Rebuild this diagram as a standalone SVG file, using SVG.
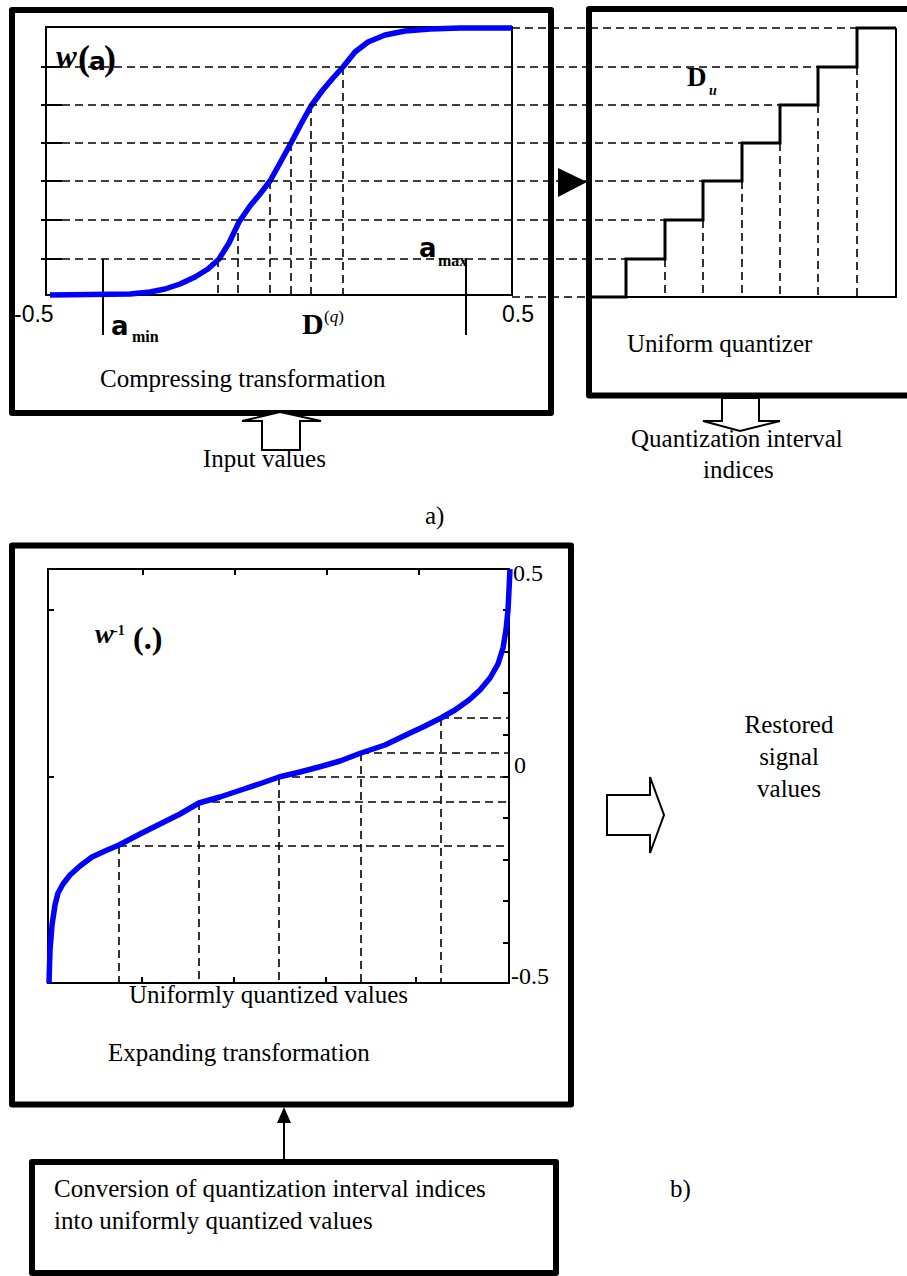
<svg xmlns="http://www.w3.org/2000/svg" width="907" height="1276" viewBox="0 0 907 1276">
  <defs>
    <style>
      .box { fill: none; stroke: #000; stroke-width: 6; stroke-linejoin: round; }
      .frame { fill: none; stroke: #000; stroke-width: 2; }
      .tick { stroke: #000; stroke-width: 2; }
      .dash { stroke: #000; stroke-width: 1.6; stroke-dasharray: 8 5; fill: none; }
      .solid { stroke: #000; stroke-width: 2; fill: none; }
      .stair { stroke: #000; stroke-width: 3; fill: none; stroke-linejoin: miter; }
      .curve { fill: none; stroke: #0000ff; stroke-width: 5.5; stroke-linejoin: round; stroke-linecap: butt; }
      .hollow { fill: #fff; stroke: #000; stroke-width: 2; stroke-linejoin: miter; }
      .lbl { font-family: "Liberation Serif", "Times New Roman", serif; font-size: 25px; fill: #000; }
      .num { font-family: "Liberation Sans", Arial, sans-serif; font-size: 23px; fill: #000; }
      .axn { font-family: "Liberation Serif", "Times New Roman", serif; font-size: 24px; fill: #000; }
      .sym { font-family: "DejaVu Sans", "Liberation Sans", sans-serif; font-weight: bold; fill: #000; }
      .sub { font-family: "Liberation Serif", "Times New Roman", serif; font-weight: bold; font-size: 16px; fill: #000; }
      .math { font-family: "Liberation Serif", "Times New Roman", serif; fill: #000; }
    </style>
  </defs>

  <!-- a) compressing transformation block -->
  <g id="compressing">
    <rect class="box" x="12" y="10" width="539" height="403"/>
    <rect class="frame" x="46" y="27" width="466" height="268"/>
    <!-- left axis ticks -->
    <g class="tick">
      <line x1="41" y1="67" x2="62" y2="67"/>
      <line x1="41" y1="105" x2="62" y2="105"/>
      <line x1="41" y1="143" x2="62" y2="143"/>
      <line x1="41" y1="181" x2="62" y2="181"/>
      <line x1="41" y1="220" x2="62" y2="220"/>
      <line x1="41" y1="259" x2="62" y2="259"/>
    </g>
    <!-- drop lines from the curve to the input axis -->
    <g class="dash">
      <line x1="218" y1="259" x2="218" y2="295"/>
      <line x1="238" y1="220" x2="238" y2="295"/>
      <line x1="270" y1="181" x2="270" y2="295"/>
      <line x1="291" y1="143" x2="291" y2="295"/>
      <line x1="311" y1="105" x2="311" y2="295"/>
      <line x1="343" y1="67" x2="343" y2="295"/>
    </g>
    <!-- amin / amax markers -->
    <line class="solid" x1="103" y1="259" x2="103" y2="335"/>
    <line class="solid" x1="466" y1="259" x2="466" y2="335"/>
    <!-- compressor characteristic -->
    <polyline class="curve" points="50,295 130,294 150,292 165,289 180,284 195,277 208,269 219,259 229,243 239,222 250,206 260,194 270,181 280,163 291,143 301,124 311,106 322,91 333,78 343,67 355,52 368,42 385,35 405,31 430,29 460,28 512,28"/>
    <!-- labels -->
    <text class="math" x="56" y="67" font-size="31" font-style="italic" font-weight="bold">w</text>
    <text class="math" x="78" y="70" font-size="36" font-weight="bold">(</text>
    <text class="sym" x="89" y="70" font-size="25">a</text>
    <text class="math" x="104" y="70" font-size="36" font-weight="bold">)</text>
    <text class="num" x="14" y="322">-0.5</text>
    <text class="num" x="502" y="322">0.5</text>
    <text class="sym" x="111" y="335" font-size="26">a</text>
    <text class="sub" x="132" y="342">min</text>
    <text class="sym" x="419" y="257" font-size="26">a</text>
    <text class="sub" x="438" y="266">max</text>
    <text class="math" x="302" y="334" font-size="30" font-weight="bold">D</text>
    <text class="math" x="324" y="322" font-size="17">(<tspan font-style="italic">q</tspan>)</text>
    <text class="lbl" x="100" y="387">Compressing transformation</text>
  </g>

  <!-- uniform quantizer block -->
  <g id="quantizer">
    <rect class="box" x="589" y="9" width="340" height="386.5"/>
    <path class="solid" d="M896,28 V297 H589"/>
    <path class="stair" d="M589,297 H626 V259 H665 V220 H703 V181 H742 V143 H780 V105 H818 V67 H857 V28 H896"/>
    <g class="dash">
      <line x1="665" y1="259" x2="665" y2="297"/>
      <line x1="703" y1="220" x2="703" y2="297"/>
      <line x1="742" y1="181" x2="742" y2="297"/>
      <line x1="780" y1="143" x2="780" y2="297"/>
      <line x1="818" y1="105" x2="818" y2="297"/>
      <line x1="857" y1="67" x2="857" y2="297"/>
    </g>
    <text class="math" x="687" y="86" font-size="27" font-weight="bold">D</text>
    <text class="math" x="709" y="95" font-size="14" font-style="italic" font-weight="bold">u</text>
    <text class="lbl" x="627" y="352">Uniform quantizer</text>
  </g>

  <!-- input / output labels of part a) -->
  <g id="input">
    <text class="lbl" x="203" y="467">Input values</text>
  </g>
  <g id="indices">
    <text class="lbl" x="631" y="447">Quantization interval</text>
    <text class="lbl" x="703" y="478">indices</text>
  </g>
  <text class="lbl" x="425" y="524">a)</text>

  <!-- b) expanding transformation block -->
  <g id="expanding">
    <rect class="box" x="12" y="545.5" width="559" height="559"/>
    <rect class="frame" x="48" y="569" width="461" height="414"/>
    <g class="tick">
      <!-- top ticks -->
      <line x1="143" y1="569" x2="143" y2="575"/>
      <line x1="235" y1="569" x2="235" y2="575"/>
      <line x1="327" y1="569" x2="327" y2="575"/>
      <line x1="419" y1="569" x2="419" y2="575"/>
      <!-- bottom ticks -->
      <line x1="142" y1="983" x2="142" y2="977"/>
      <line x1="234" y1="983" x2="234" y2="977"/>
      <line x1="326" y1="983" x2="326" y2="977"/>
      <line x1="416" y1="983" x2="416" y2="977"/>
      <!-- left ticks -->
      <line x1="48" y1="610" x2="54" y2="610"/>
      <line x1="48" y1="777" x2="54" y2="777"/>
      <!-- right ticks -->
      <line x1="509" y1="610" x2="503" y2="610"/>
      <line x1="509" y1="652" x2="503" y2="652"/>
      <line x1="509" y1="693" x2="503" y2="693"/>
      <line x1="509" y1="735" x2="503" y2="735"/>
      <line x1="509" y1="777" x2="503" y2="777"/>
      <line x1="509" y1="818" x2="503" y2="818"/>
      <line x1="509" y1="860" x2="503" y2="860"/>
      <line x1="509" y1="901" x2="503" y2="901"/>
      <line x1="509" y1="943" x2="503" y2="943"/>
    </g>
    <g class="dash">
      <line x1="119" y1="846" x2="509" y2="846"/>
      <line x1="199" y1="802" x2="509" y2="802"/>
      <line x1="279" y1="777" x2="509" y2="777"/>
      <line x1="361" y1="753" x2="509" y2="753"/>
      <line x1="441" y1="718" x2="509" y2="718"/>
      <line x1="119" y1="846" x2="119" y2="983"/>
      <line x1="199" y1="802" x2="199" y2="983"/>
      <line x1="279" y1="777" x2="279" y2="983"/>
      <line x1="361" y1="753" x2="361" y2="983"/>
      <line x1="441" y1="718" x2="441" y2="983"/>
    </g>
    <!-- expander characteristic -->
    <polyline class="curve" points="49,983 50,950 52,925 55,905 58,893 63,884 70,875 80,866 92,857 105,851 119,845 140,834 160,824 180,814 199,803 220,797 244,789 262,783 279,777 300,772 319,767 340,761 361,753 385,745 408,734 425,726 441,718 455,710 469,700 480,690 490,678 498,664 503,648 506,630 508,610 509,590 510,569"/>
    <text class="math" x="95" y="643" font-size="28" font-style="italic" font-weight="bold">w</text>
    <text class="math" x="113" y="635" font-size="14" font-weight="bold">-1</text>
    <text class="math" x="133" y="649" font-size="32" font-weight="bold">(.)</text>
    <text class="axn" x="513" y="581">0.5</text>
    <text class="axn" x="514" y="773">0</text>
    <text class="axn" x="511" y="984">-0.5</text>
    <text class="lbl" x="129" y="1003">Uniformly quantized values</text>
    <text class="lbl" x="108" y="1061">Expanding transformation</text>
  </g>

  <!-- index to value conversion block -->
  <g id="conversion">
    <rect class="box" x="32" y="1162" width="524" height="111"/>
    <text class="lbl" x="54" y="1197">Conversion of quantization interval indices</text>
    <text class="lbl" x="54" y="1229">into uniformly quantized values</text>
  </g>

  <g id="restored">
    <text class="lbl" x="789" y="733" text-anchor="middle">Restored</text>
    <text class="lbl" x="789" y="765" text-anchor="middle">signal</text>
    <text class="lbl" x="789" y="797" text-anchor="middle">values</text>
  </g>
  <text class="lbl" x="670" y="1197">b)</text>

  <!-- connectors -->
  <g id="connectors">
    <!-- level lines carried from the compressor into the quantizer -->
    <g class="dash">
      <line x1="512" y1="28" x2="857" y2="28"/>
      <line x1="62" y1="67" x2="818" y2="67"/>
      <line x1="62" y1="105" x2="780" y2="105"/>
      <line x1="62" y1="143" x2="742" y2="143"/>
      <line x1="62" y1="181" x2="703" y2="181"/>
      <line x1="62" y1="220" x2="665" y2="220"/>
      <line x1="62" y1="259" x2="626" y2="259"/>
      <line x1="512" y1="297" x2="589" y2="297"/>
    </g>
    <polygon points="558,168 587,182 558,197" fill="#000"/>
    <!-- input arrow -->
    <polygon class="hollow" points="262,450 262,421 242,421 280,412 321,421 300,421 300,450"/>
    <!-- output arrow of the quantizer -->
    <polygon class="hollow" points="722,398 722,421 703,421 740,431 780,421 759,421 759,398"/>
    <!-- restored values arrow -->
    <polygon class="hollow" points="607,795 650,795 650,777 664,815 650,853 650,835 607,835"/>
    <!-- conversion to expander -->
    <line x1="284" y1="1159" x2="284" y2="1120" stroke="#000" stroke-width="2"/>
    <polygon points="284,1107 277,1123 291,1123" fill="#000"/>
  </g>
</svg>
